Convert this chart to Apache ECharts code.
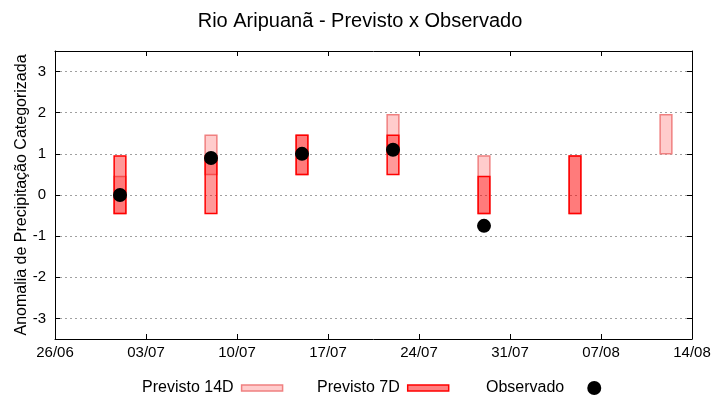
<!DOCTYPE html>
<html>
<head>
<meta charset="utf-8">
<script src="https://cdn.jsdelivr.net/npm/echarts@6/dist/echarts.min.js"></script>
<style>html,body{margin:0;padding:0;background:#fff}#c{width:720px;height:400px}</style>
</head>
<body>
<div id="c"></div>
<script>
const tickLabels = ['26/06','03/07','10/07','17/07','24/07','31/07','07/08','14/08'];
const yTicks = [-3,-2,-1,0,1,2,3];
const dates14 = ['01/07','08/07','15/07','22/07','29/07','05/08','12/08'];
const low14  = [-0.45, 0.5, 0.5, 1.0, -0.45, -0.45, 1.0];
const high14 = [0.45, 1.45, 1.45, 1.95, 0.95, 0.95, 1.95];
const dates7 = ['01/07','08/07','15/07','22/07','29/07','05/08'];
const low7  = [-0.45, -0.45, 0.5, 0.5, -0.45, -0.45];
const high7 = [0.95, 0.95, 1.45, 1.45, 0.45, 0.95];
const datesObs = ['01/07','08/07','15/07','22/07','29/07'];
const obs = [0, 0.9, 1.0, 1.1, -0.75];

const FONT = 'Liberation Sans';
function dayOffset(s){
  const [d,m] = s.split('/').map(Number);
  return (Date.UTC(2023, m-1, d) - Date.UTC(2023, 5, 26)) / 864e5;
}
function boxRender(fill, stroke){
  return function(params, api){
    const x = api.value(0), lo = api.value(1), hi = api.value(2);
    const p1 = api.coord([x, hi]), p2 = api.coord([x, lo]);
    const w = api.size([0.9, 0])[0];
    return {type:'rect', shape:{x:p1[0]-w/2, y:p1[1], width:w, height:p2[1]-p1[1]},
      style:{fill:fill, stroke:stroke, lineWidth:1.5}};
  };
}
const chart = echarts.init(document.getElementById('c'), null, {renderer:'canvas'});
const axisCommon = {
  axisLine:{show:true, onZero:false, lineStyle:{color:'#000', width:1}},
  axisTick:{show:true, inside:true, length:5, lineStyle:{color:'#000'}}
};
const legendText = {fontFamily:FONT, fontSize:16, color:'#000'};
chart.setOption({
  animation:false,
  title:{text:'Rio Aripuanã - Previsto x Observado', left:'center', top:6,
    textStyle:{fontFamily:FONT, fontSize:20, fontWeight:'normal', color:'#000'}},
  grid:{left:55, right:28, top:51, bottom:61},
  legend:[
    {data:[{name:'Previsto 14D', icon:'rect', itemStyle:{color:'#ffcccc', borderColor:'#f08080', borderWidth:1.5}}],
     left:142, top:380, padding:0, align:'right', itemWidth:41, itemHeight:6, selectedMode:false,
     textStyle:Object.assign({padding:[0,3,0,0]}, legendText)},
    {data:[{name:'Previsto 7D', icon:'rect', itemStyle:{color:'#ff8080', borderColor:'#ff0000', borderWidth:1.5}}],
     left:317, top:380, padding:0, align:'right', itemWidth:41, itemHeight:6, selectedMode:false,
     textStyle:Object.assign({padding:[0,3,0,0]}, legendText)},
    {data:[{name:'Observado', icon:'circle', itemStyle:{color:'#000'}}],
     left:486, top:380, padding:0, align:'right', itemWidth:50, itemHeight:14, selectedMode:false,
     textStyle:legendText}
  ],
  xAxis:[
    Object.assign({type:'value', min:0, max:49, interval:7, position:'bottom',
      axisLabel:{margin:6, fontFamily:FONT, fontSize:15, color:'#000',
        formatter:v => tickLabels[Math.round(v/7)]},
      splitLine:{show:false}}, axisCommon),
    Object.assign({type:'value', min:0, max:49, interval:7, position:'top',
      axisLabel:{show:false}, splitLine:{show:false}}, axisCommon)
  ],
  yAxis:[
    Object.assign({type:'value', min:-3.5, max:3.5, position:'left',
      name:'Anomalia de Precipitação Categorizada', nameLocation:'middle', nameGap:25,
      nameMoveOverlap:false,
      nameTextStyle:{fontFamily:FONT, fontSize:16, color:'#000'},
      axisLabel:{margin:9, fontFamily:FONT, fontSize:15, color:'#000', customValues:yTicks},
      splitLine:{show:true, lineStyle:{color:'#a0a0a0', type:[2,3], width:1}}}, axisCommon,
      {axisTick:{show:true, inside:true, length:5, lineStyle:{color:'#000'}, customValues:yTicks}}),
    Object.assign({type:'value', min:-3.5, max:3.5, position:'right',
      axisLabel:{show:false, customValues:yTicks}, splitLine:{show:false}}, axisCommon,
      {axisTick:{show:true, inside:true, length:5, lineStyle:{color:'#000'}, customValues:yTicks}})
  ],
  series:[
    {name:'Previsto 14D', type:'custom', xAxisIndex:0, yAxisIndex:0,
     itemStyle:{color:'#ffcccc', borderColor:'#f08080'},
     renderItem: boxRender('rgba(255,0,0,0.2)', '#f08080'),
     encode:{x:0, y:[1,2]},
     data: dates14.map((d,i)=>[dayOffset(d), low14[i], high14[i]]), z:2},
    {name:'Previsto 7D', type:'custom', xAxisIndex:0, yAxisIndex:0,
     itemStyle:{color:'#ff8080', borderColor:'#ff0000'},
     renderItem: boxRender('rgba(255,0,0,0.4)', '#ff0000'),
     encode:{x:0, y:[1,2]},
     data: dates7.map((d,i)=>[dayOffset(d), low7[i], high7[i]]), z:3},
    {name:'Observado', type:'scatter', xAxisIndex:0, yAxisIndex:0, symbol:'circle', symbolSize:14,
     itemStyle:{color:'#000', opacity:1},
     data: datesObs.map((d,i)=>[dayOffset(d), obs[i]]), z:4}
  ]
});
</script>
</body>
</html>
